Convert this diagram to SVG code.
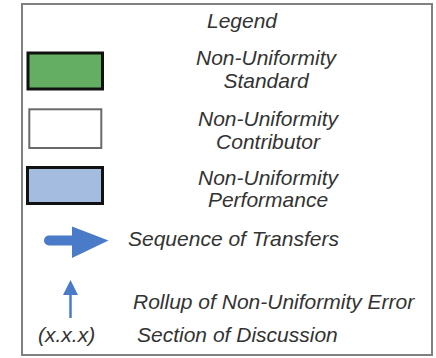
<svg xmlns="http://www.w3.org/2000/svg" width="436" height="358" viewBox="0 0 436 358">
<style>
text{font-family:"Liberation Sans",Arial,sans-serif;font-style:italic;font-size:21px;fill:#333}
.c{text-anchor:middle}
.box{stroke-width:3}
</style>
<rect x="0" y="0" width="436" height="358" fill="#fff"/>
<rect id="frame" x="22" y="4" width="410" height="351" fill="#fff" stroke="#808080" stroke-width="2"/>
<text class="c" x="242" y="28">Legend</text>
<g id="standard">
<rect class="box" x="28" y="53" width="74.5" height="36" fill="#63ae62" stroke="#111"/>
<text class="c" x="266" y="65">Non-Uniformity</text>
<text class="c" x="266" y="88">Standard</text>
</g>
<g id="contributor">
<rect x="29.3" y="109.3" width="72" height="38.7" fill="#fff" stroke="#6a6a6a" stroke-width="2"/>
<text class="c" x="268" y="126">Non-Uniformity</text>
<text class="c" x="268" y="149">Contributor</text>
</g>
<g id="performance">
<rect class="box" x="27.5" y="167.5" width="75" height="36" fill="#a3bce0" stroke="#111"/>
<text class="c" x="268" y="185">Non-Uniformity</text>
<text class="c" x="268" y="207">Performance</text>
</g>
<g id="connectors">
<line x1="49" y1="240.5" x2="76" y2="240.5" stroke="#4a7bc8" stroke-width="10" stroke-linecap="round"/>
<polygon points="72,226.5 108.5,240.5 72,258" fill="#4a7bc8"/>
<line x1="70.5" y1="318" x2="70.5" y2="292" stroke="#4a7bc8" stroke-width="2.5"/>
<polygon points="70.5,280 78,295 63,295" fill="#4a7bc8"/>
</g>
<text x="128" y="246">Sequence of Transfers</text>
<text x="133" y="309">Rollup of Non-Uniformity Error</text>
<text x="38" y="342">(x.x.x)</text>
<text x="137" y="342">Section of Discussion</text>
</svg>
